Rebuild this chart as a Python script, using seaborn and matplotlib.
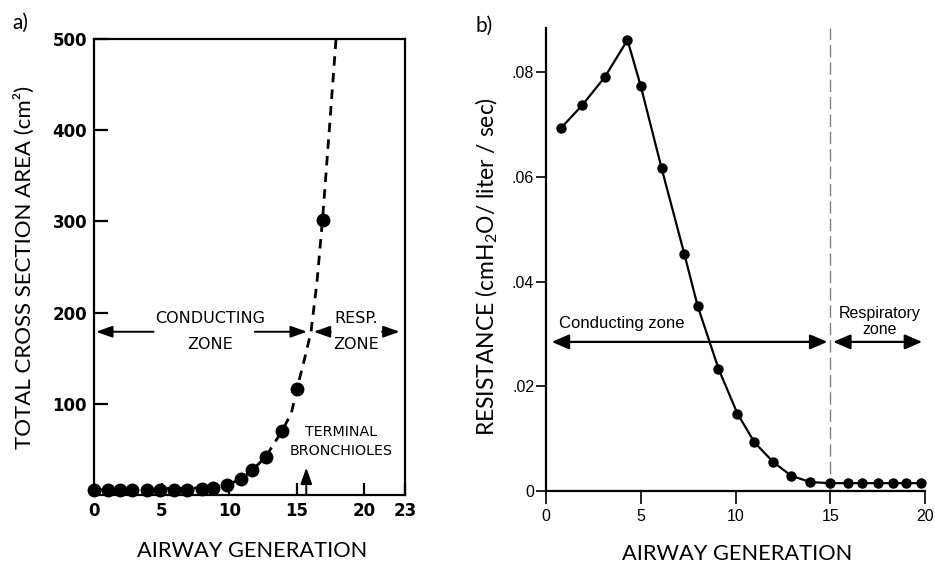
import matplotlib
matplotlib.use("Agg")
import matplotlib.pyplot as plt
import seaborn as sns
import pandas as pd

# (a) total cross-sectional area of the airways by generation
area_gen = [0, 1.0, 1.9, 2.8, 3.9, 4.9, 5.9, 6.9, 8.0, 8.8, 9.8, 10.9, 11.7, 12.7, 13.9, 15.0, 16.9]
area_cm2 = [5.5, 5.5, 5.5, 5.5, 5.5, 5.5, 5.5, 5.5, 6.5, 8, 11, 17.5, 27, 42, 70, 116, 302]

# dashed trend curve of area
fit_gen = [0, 8.8, 9.8, 10.9, 11.7, 12.7, 13.9, 14.6, 15.0, 15.5, 16.05, 16.5, 16.9, 17.4, 17.9]
fit_area = [5.5, 8, 11, 17.5, 27, 42, 70, 90, 116, 145, 179, 235, 302, 400, 500]

area_yticks = [100, 200, 300, 400, 500]
area_xticks = [0, 5, 10, 15, 20, 23]

# (b) airway resistance by generation
res_gen = [0.8, 1.9, 3.1, 4.3, 5.0, 6.1, 7.3, 8.0, 9.1, 10.1, 11.0, 12.0, 12.95,
           13.95, 15.0, 15.95, 16.7, 17.5, 18.3, 19.0, 19.8]
res_val = [0.0694, 0.0737, 0.0791, 0.0862, 0.0774, 0.0617, 0.0453, 0.0354, 0.0234,
           0.0148, 0.0093, 0.0055, 0.0029, 0.0017, 0.0015, 0.0015, 0.0015, 0.0015,
           0.0015, 0.0015, 0.0015]
res_yticks = [0, 0.02, 0.04, 0.06, 0.08]
res_yticklabels = ["0", ".02", ".04", ".06", ".08"]
res_xticks = [0, 5, 10, 15, 20]

area_df = pd.DataFrame({"gen": area_gen, "area": area_cm2})
fit_df = pd.DataFrame({"gen": fit_gen, "area": fit_area})
res_df = pd.DataFrame({"gen": res_gen, "res": res_val})

sns.set_theme(style="white")
plt.rcParams["font.family"] = ["Lato", "DejaVu Sans"]
plt.rcParams["mathtext.fontset"] = "custom"
plt.rcParams["mathtext.rm"] = "Lato"
plt.rcParams["mathtext.default"] = "regular"

fig = plt.figure(figsize=(9.35, 5.67), dpi=100)
W, H = 935, 567

def px_axes(l, t, r, b):
    return fig.add_axes([l / W, 1 - b / H, (r - l) / W, (b - t) / H])

# ---------------- panel a ----------------
ax1 = px_axes(94, 39, 405, 495)
sns.lineplot(data=fit_df, x="gen", y="area", ax=ax1, color="black", lw=2.0,
             dashes=False, estimator=None, sort=False)
ax1.lines[-1].set_linestyle((0, (3.4, 2.6)))
sns.scatterplot(data=area_df, x="gen", y="area", ax=ax1, color="black", s=100,
                edgecolor="black", linewidth=0, zorder=4, clip_on=False)
ax1.set_xlim(0, 23)
ax1.set_ylim(0, 500)
ax1.set_xticks(area_xticks)
ax1.set_yticks(area_yticks)
ax1.set_xlabel("")
ax1.set_ylabel("")
for s in ax1.spines.values():
    s.set_visible(True)
    s.set_color("black")
    s.set_linewidth(1.6)
ax1.tick_params(axis="both", direction="in", length=9, width=1.6, color="black",
                bottom=True, left=True, labelsize=12, pad=5)
ax1.tick_params(axis="y", length=10, pad=5)
for lab in ax1.get_xticklabels() + ax1.get_yticklabels():
    lab.set_fontfamily("DejaVu Sans")
    lab.set_fontweight("bold")
    lab.set_color("black")

txt_a = dict(ha="center", va="center", family="DejaVu Sans", color="black")
ax1.text(8.6, 193, "CONDUCTING", fontsize=11.5, **txt_a)
ax1.text(8.6, 164.5, "ZONE", fontsize=11.5, **txt_a)
ax1.text(19.4, 193, "RESP.", fontsize=11.5, **txt_a)
ax1.text(19.4, 164.5, "ZONE", fontsize=11.5, **txt_a)
ax1.text(18.3, 69, "TERMINAL", fontsize=10.3, **txt_a)
ax1.text(18.3, 48, "BRONCHIOLES", fontsize=10.3, **txt_a)

arr_a = dict(arrowstyle="-|>,head_length=0.7,head_width=0.25", color="black",
             lw=1.4, mutation_scale=14, shrinkA=0, shrinkB=0)
ax1.annotate("", xy=(0.15, 179), xytext=(4.4, 179), arrowprops=arr_a)
ax1.annotate("", xy=(15.75, 179), xytext=(11.9, 179), arrowprops=arr_a)
ax1.annotate("", xy=(16.25, 179), xytext=(17.5, 179), arrowprops=arr_a)
ax1.annotate("", xy=(22.6, 179), xytext=(21.3, 179), arrowprops=arr_a)
ax1.annotate("", xy=(15.7, 30), xytext=(15.7, 0), arrowprops=arr_a)

# ---------------- panel b ----------------
ax2 = px_axes(546, 28, 925, 491)
ax2.axvline(15, color="0.5", lw=1.0, ls=(0, (9, 3.5)), zorder=1)
sns.lineplot(data=res_df, x="gen", y="res", ax=ax2, color="black", lw=1.6,
             marker="o", markersize=7.5, markeredgewidth=0, estimator=None,
             sort=False, zorder=3, clip_on=False)
ax2.set_xlim(0, 20)
ax2.set_ylim(0, 0.0885)
ax2.set_xticks(res_xticks)
ax2.set_yticks(res_yticks)
ax2.set_yticklabels(res_yticklabels)
ax2.set_xlabel("")
ax2.set_ylabel("")
ax2.spines["top"].set_visible(False)
ax2.spines["right"].set_visible(False)
for side in ("left", "bottom"):
    ax2.spines[side].set_color("black")
    ax2.spines[side].set_linewidth(1.6)
ax2.tick_params(axis="both", direction="out", width=1.2, color="black",
                bottom=True, left=True, labelsize=11.5)
ax2.tick_params(axis="x", length=9, pad=4)
ax2.tick_params(axis="y", length=7, pad=1.5)
for lab in ax2.get_xticklabels() + ax2.get_yticklabels():
    lab.set_fontfamily("Liberation Sans")
    lab.set_color("black")

txt_b = dict(ha="center", va="center", family="Liberation Sans", color="black")
ax2.text(4.0, 0.0321, "Conducting zone", fontsize=12, **txt_b)
ax2.text(17.6, 0.0324, "Respiratory\nzone", fontsize=11.5, linespacing=1.1, **txt_b)
arr_b = dict(arrowstyle="<|-|>,head_length=0.7,head_width=0.3", color="black",
             lw=1.6, mutation_scale=15, shrinkA=0, shrinkB=0)
ax2.annotate("", xy=(14.85, 0.0285), xytext=(0.3, 0.0285), arrowprops=arr_b)
ax2.annotate("", xy=(19.85, 0.0285), xytext=(15.15, 0.0285), arrowprops=arr_b)

# ---------------- figure labels ----------------
lab_kw = dict(ha="center", va="center", color="black")
fig.text(20 / W, 1 - 23 / H, "a)", fontsize=15, **lab_kw)
fig.text(484 / W, 1 - 26 / H, "b)", fontsize=15, **lab_kw)
fig.text(252 / W, 1 - 551 / H, "AIRWAY GENERATION", fontsize=15.7, **lab_kw)
fig.text(737 / W, 1 - 554 / H, "AIRWAY GENERATION", fontsize=15.7, **lab_kw)
fig.text(24 / W, 1 - 267 / H, "TOTAL CROSS SECTION AREA (cm²)", rotation=90,
         fontsize=16, **lab_kw)
fig.text(487 / W, 1 - 267 / H, "RESISTANCE (cmH$_2$O/ liter / sec)", rotation=90,
         fontsize=16.5, **lab_kw)

fig.savefig("out.png", dpi=100, facecolor="white")
